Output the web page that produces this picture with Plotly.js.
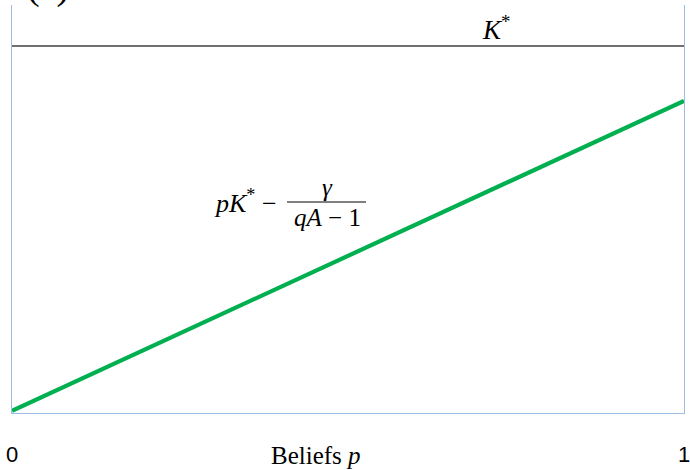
<!DOCTYPE html>
<html>
<head>
<meta charset="utf-8">
<script src="https://cdn.plot.ly/plotly-3.0.1.min.js"></script>
<style>
  html, body { margin: 0; padding: 0; background: #ffffff; }
  #chart { width: 690px; height: 470px; }
</style>
</head>
<body>
<div id="chart"></div>
<script>
// Beliefs p on the horizontal axis
const beliefs = [0, 1];
// Target capital level K*
const kStar = [1, 1];
// pK* - gamma/(qA - 1), with gamma/(qA - 1) = 0.177
const investment = [-0.177, 0.823];
const xTicks = [0, 1];
const xTickText = ['0', '1'];

const serif = 'Liberation Serif, DejaVu Serif, serif';
const frameBlue = '#9dbde3';

const traces = [
  {
    x: beliefs, y: kStar, mode: 'lines', type: 'scatter',
    line: { color: '#404040', width: 1.6 }, hoverinfo: 'skip', showlegend: false
  },
  {
    x: beliefs, y: investment, mode: 'lines', type: 'scatter',
    line: { color: '#00b050', width: 4.2 }, hoverinfo: 'skip', showlegend: false
  }
];

const layout = {
  width: 690, height: 470,
  margin: { l: 12, r: 6, t: 5, b: 57 },
  paper_bgcolor: '#ffffff', plot_bgcolor: '#ffffff',
  showlegend: false,
  xaxis: {
    range: [0, 1], showgrid: false, zeroline: false,
    showline: true, linecolor: frameBlue, linewidth: 1.3, mirror: false,
    tickvals: xTicks, ticktext: xTickText,
    ticks: 'outside', ticklen: 21, tickcolor: 'rgba(0,0,0,0)',
    ticklabeloverflow: 'allow',
    tickfont: { family: 'Liberation Sans, Arial, sans-serif', size: 22, color: '#000000' }
  },
  yaxis: {
    range: [-0.1839, 1.1323], showgrid: false, zeroline: false,
    showline: true, linecolor: frameBlue, linewidth: 1.3, mirror: true,
    showticklabels: false, ticks: ''
  },
  shapes: [
    // fraction bar of gamma / (qA - 1)
    { type: 'line', xref: 'paper', yref: 'paper',
      x0: (287 - 12) / 672, x1: (366 - 12) / 672,
      y0: (413 - 202) / 408, y1: (413 - 202) / 408,
      line: { color: '#000000', width: 1.2 } }
  ],
  annotations: [
    { text: '(a)', xref: 'paper', yref: 'paper', x: (48 - 12) / 672, y: 1,
      xanchor: 'center', yanchor: 'middle', yshift: 19, showarrow: false,
      font: { family: serif, size: 38, color: '#000000' } },
    { text: '<i>K</i><sup>*</sup>', xref: 'paper', yref: 'paper',
      x: (496 - 12) / 672, y: (413 - 28) / 408,
      xanchor: 'center', yanchor: 'middle', showarrow: false,
      font: { family: serif, size: 27, color: '#000000' } },
    { text: '<i>pK</i><sup>*</sup> \u2212', xref: 'paper', yref: 'paper',
      x: (279 - 12) / 672, y: (413 - 202) / 408,
      xanchor: 'right', yanchor: 'middle', showarrow: false,
      font: { family: serif, size: 26, color: '#000000' } },
    { text: '<i>\u03b3</i>', xref: 'paper', yref: 'paper',
      x: (327 - 12) / 672, y: (413 - 187) / 408,
      xanchor: 'center', yanchor: 'middle', showarrow: false,
      font: { family: serif, size: 25, color: '#000000' } },
    { text: '<i>qA</i> \u2212 1', xref: 'paper', yref: 'paper',
      x: (327 - 12) / 672, y: (413 - 218) / 408,
      xanchor: 'center', yanchor: 'middle', showarrow: false,
      font: { family: serif, size: 25, color: '#000000' } },
    { text: 'Beliefs <i>p</i>', xref: 'paper', yref: 'paper',
      x: (316 - 12) / 672, y: (413 - 455) / 408,
      xanchor: 'center', yanchor: 'middle', showarrow: false,
      font: { family: serif, size: 25, color: '#000000' } }
  ]
};

Plotly.newPlot('chart', traces, layout, { displayModeBar: false, staticPlot: true });
</script>
</body>
</html>
